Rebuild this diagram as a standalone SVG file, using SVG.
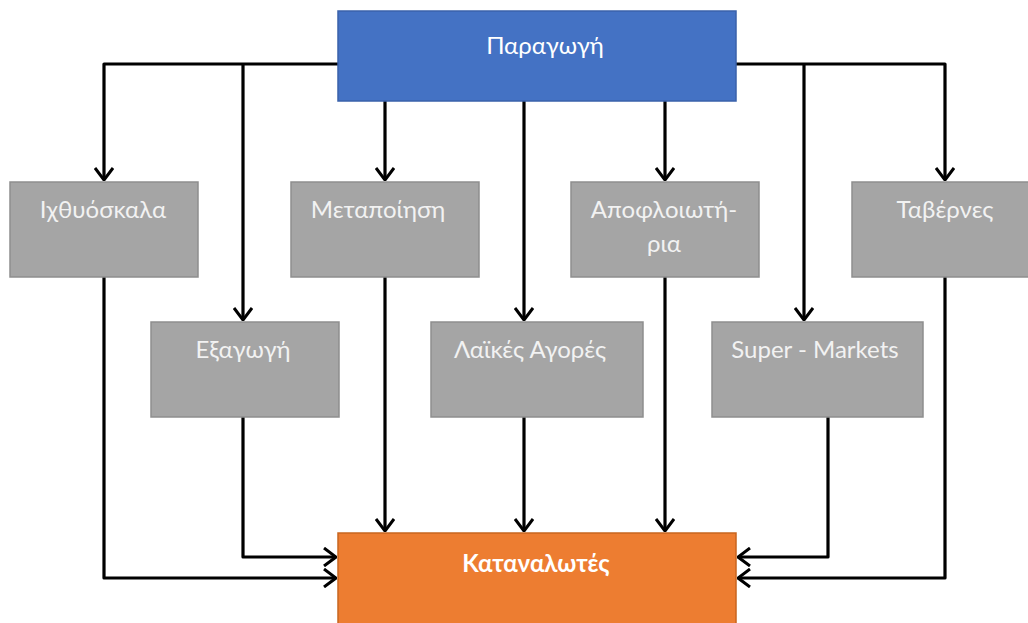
<svg xmlns="http://www.w3.org/2000/svg" width="1028" height="623" viewBox="0 0 1028 623">
<defs>
<style>
.lbl{font-family:Lato,"Open Sans","Noto Sans",sans-serif;font-size:24px;text-anchor:middle;}
.g rect{fill:#A5A5A5;stroke:#8E8E8E;stroke-width:1.5;}
.g text{fill:#F2F2F2;}
.c{fill:none;stroke:#000;stroke-width:3.2;stroke-linejoin:round;}
</style>
<marker id="ah" viewBox="0 0 14 20" refX="13" refY="10" markerWidth="14" markerHeight="20" markerUnits="userSpaceOnUse" orient="auto">
<path d="M1,1 L13,10 L1,19" fill="none" stroke="#000" stroke-width="3"/>
</marker>
</defs>
<rect width="1028" height="623" fill="#fff"/>
<g id="connectors">
<path class="c" d="M338,64 H104 V180" marker-end="url(#ah)"/>
<path class="c" d="M243,64 V320" marker-end="url(#ah)"/>
<path class="c" d="M385,101 V180" marker-end="url(#ah)"/>
<path class="c" d="M524,101 V320" marker-end="url(#ah)"/>
<path class="c" d="M665,101 V180" marker-end="url(#ah)"/>
<path class="c" d="M736,64 H945 V180" marker-end="url(#ah)"/>
<path class="c" d="M804,64 V320" marker-end="url(#ah)"/>
<path class="c" d="M385,277 V531" marker-end="url(#ah)"/>
<path class="c" d="M524,417 V531" marker-end="url(#ah)"/>
<path class="c" d="M665,277 V531" marker-end="url(#ah)"/>
<path class="c" d="M243,417 V557 H336" marker-end="url(#ah)"/>
<path class="c" d="M104,277 V578 H336" marker-end="url(#ah)"/>
<path class="c" d="M828,417 V557 H738" marker-end="url(#ah)"/>
<path class="c" d="M945,277 V578 H738" marker-end="url(#ah)"/>
</g>
<g id="paragogi">
<rect x="338" y="11" width="398" height="90" fill="#4472C4" stroke="#3A62AA" stroke-width="1.5"/>
<text class="lbl" x="545" y="54" fill="#FFFFFF" font-size="25">Παραγωγή</text>
</g>
<g id="ichthyoskala" class="g">
<rect x="10" y="182" width="188" height="95"/>
<text class="lbl" x="103" y="218">Ιχθυόσκαλα</text>
</g>
<g id="metapoiisi" class="g">
<rect x="291" y="182" width="188" height="95"/>
<text class="lbl" x="378" y="218">Μεταποίηση</text>
</g>
<g id="apofloiotiria" class="g">
<rect x="571" y="182" width="188" height="95"/>
<text class="lbl" x="664" y="218">Αποφλοιωτή-</text>
<text class="lbl" x="664" y="252">ρια</text>
</g>
<g id="taverns" class="g">
<rect x="852" y="182" width="188" height="95"/>
<text class="lbl" x="945" y="218">Ταβέρνες</text>
</g>
<g id="exagogi" class="g">
<rect x="151" y="322" width="188" height="95"/>
<text class="lbl" x="243" y="358">Εξαγωγή</text>
</g>
<g id="laikes" class="g">
<rect x="431" y="322" width="212" height="95"/>
<text class="lbl" x="530" y="358">Λαϊκές Αγορές</text>
</g>
<g id="supermarkets" class="g">
<rect x="712" y="322" width="211" height="95"/>
<text class="lbl" x="815" y="358">Super - Markets</text>
</g>
<g id="katanalotes">
<rect x="338" y="533" width="398" height="100" fill="#ED7D31" stroke="#C8651F" stroke-width="1.5"/>
<text class="lbl" x="536" y="572" fill="#FFFFFF" font-weight="bold">Καταναλωτές</text>
</g>
</svg>
